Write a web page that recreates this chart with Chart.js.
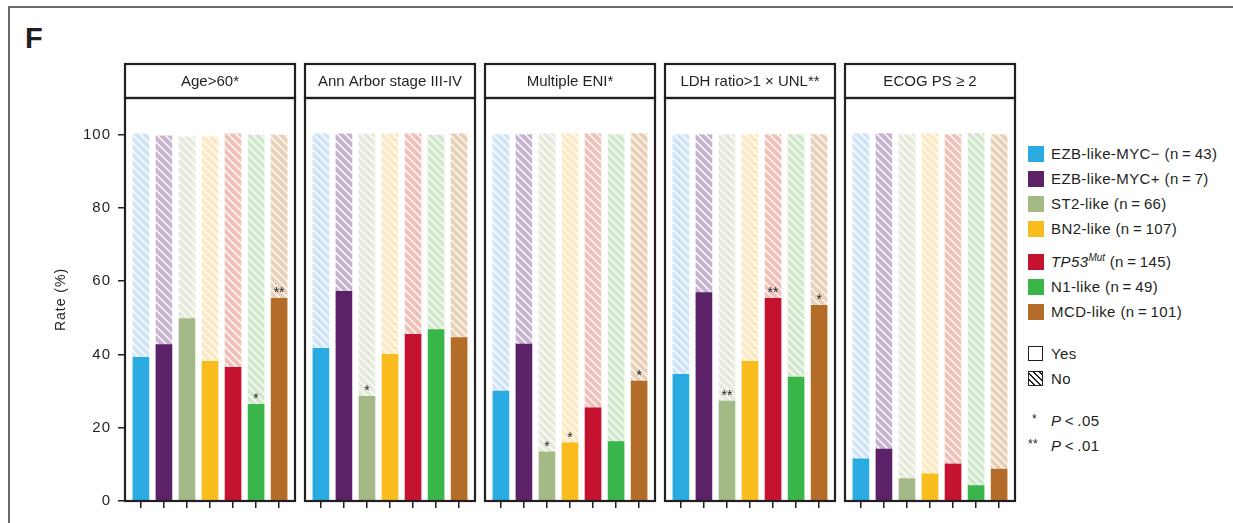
<!DOCTYPE html>
<html>
<head>
<meta charset="utf-8">
<script src="https://cdn.jsdelivr.net/npm/chart.js@4.4.1/dist/chart.umd.min.js"></script>
<style>
  body { margin: 0; background: #fff; width: 1233px; height: 523px; overflow: hidden; position: relative;
         font-family: "Liberation Sans", Arial, sans-serif; color: #231f20; }
  .frame { position: absolute; left: 8px; top: 6px; width: 1300px; height: 600px;
           border-top: 2px solid #6b6b6b; border-left: 2px solid #6b6b6b; }
  .letter { position: absolute; left: 25px; top: 21px; font-size: 29px; font-weight: bold; line-height: 34px; }
  canvas { position: absolute; top: 50px; }
  .row { position: absolute; left: 1028px; height: 16px; line-height: 16px; font-size: 15px; white-space: nowrap; letter-spacing: 0.4px; }
  .sw { position: absolute; left: 0; top: 0; width: 16px; height: 16px; }
  .row span.t { position: absolute; left: 23px; top: 0; }
  .box { position: absolute; left: 0; top: 0; width: 13px; height: 13px; border: 1.5px solid #231f20; }
  sup { font-size: 10px; line-height: 0; vertical-align: 6px; letter-spacing: 0; }
</style>
</head>
<body>
<div class="frame"></div>
<div class="letter">F</div>
<div id="panels"></div>
<div id="legend"></div>
<script>
// groups (bars inside every panel)
const groups = ['EZB-like-MYC\u2212', 'EZB-like-MYC+', 'ST2-like', 'BN2-like', 'TP53', 'N1-like', 'MCD-like'];
const groupN = [43, 7, 66, 107, 145, 49, 101];
const solidColors = ['#29abe2', '#5c2268', '#a4b985', '#f8bd1c', '#c41230', '#3ab54a', '#b46d28'];
const lightColors = ['#cfe4f6', '#c7b4d0', '#e5eadb', '#fde9c1', '#f1c0b8', '#d1e8cc', '#e9cfb5'];

const panelTitles = ['Age>60*', 'Ann Arbor stage III-IV', 'Multiple ENI*', 'LDH ratio>1 \u00d7 UNL**', 'ECOG PS \u2265 2'];

// rate (%) of "Yes" and "No" per panel
const yesAge = [39.2, 42.7, 49.8, 38.1, 36.5, 26.4, 55.3];
const noAge  = [61.0, 57.0, 49.6, 61.3, 63.7, 73.5, 44.6];
const yesStage = [41.7, 57.2, 28.6, 40.0, 45.5, 46.8, 44.6];
const noStage  = [58.5, 43.0, 71.6, 60.2, 54.7, 53.1, 55.6];
const yesEni = [30.0, 42.8, 13.4, 15.9, 25.4, 16.2, 32.7];
const noEni  = [70.0, 57.2, 86.9, 84.4, 74.9, 83.8, 67.6];
const yesLdh = [34.6, 56.9, 27.3, 38.1, 55.3, 33.8, 53.4];
const noLdh  = [65.4, 43.1, 72.7, 61.9, 44.7, 66.2, 46.6];
const yesEcog = [11.5, 14.2, 6.1, 7.4, 10.1, 4.2, 8.7];
const noEcog  = [88.8, 86.1, 93.9, 92.9, 89.9, 96.1, 91.3];

// significance marks over the "Yes" part
const starsAge   = ['', '', '', '', '', '*', '**'];
const starsStage = ['', '', '*', '', '', '', ''];
const starsEni   = ['', '', '*', '*', '', '', '*'];
const starsLdh   = ['', '', '**', '', '**', '', '*'];
const starsEcog  = ['', '', '', '', '', '', ''];

const yTicks = [0, 20, 40, 60, 80, 100];

const panelYes = [yesAge, yesStage, yesEni, yesLdh, yesEcog];
const panelNo = [noAge, noStage, noEni, noLdh, noEcog];
const panelStars = [starsAge, starsStage, starsEni, starsLdh, starsEcog];

const FONT = '"Liberation Sans", Arial, sans-serif';
const INK = '#231f20';

function hatch(color, line) {
  const c = document.createElement('canvas');
  c.width = c.height = 8;
  const g = c.getContext('2d');
  g.fillStyle = color;
  g.fillRect(0, 0, 8, 8);
  g.strokeStyle = line;
  g.lineWidth = 1.4;
  g.beginPath();
  g.moveTo(-1, -1); g.lineTo(9, 9);
  g.moveTo(-1, 7); g.lineTo(1, 9);
  g.moveTo(7, -1); g.lineTo(9, 1);
  g.stroke();
  return g.createPattern(c, 'repeat');
}
const hatchColors = lightColors.map(c => hatch(c, '#ffffff'));

// box round the plot and the title strip
const panelBox = {
  id: 'panelBox',
  beforeDraw(chart) {
    chart.ctx.letterSpacing = '1px';   // wider tick numbers, like the original
  },
  afterDraw(chart, args, opts) {
    const { ctx, chartArea: a } = chart;
    ctx.save();
    ctx.letterSpacing = '0px';
    ctx.strokeStyle = INK;
    ctx.lineWidth = 2.2;
    ctx.strokeRect(a.left, a.top, a.right - a.left, a.bottom - a.top);
    ctx.strokeRect(a.left, a.top - 34, a.right - a.left, 34);
    ctx.font = '15px ' + FONT;
    ctx.fillStyle = INK;
    ctx.textAlign = 'center';
    ctx.textBaseline = 'middle';
    ctx.fillText(opts.title, (a.left + a.right) / 2, a.top - 16);
    ctx.restore();
  }
};

const starMarks = {
  id: 'starMarks',
  afterDatasetsDraw(chart, args, opts) {
    const { ctx } = chart;
    const meta = chart.getDatasetMeta(0);
    ctx.save();
    ctx.letterSpacing = '0px';
    ctx.font = '14px ' + FONT;
    ctx.fillStyle = '#222';
    ctx.textAlign = 'center';
    ctx.textBaseline = 'alphabetic';
    meta.data.forEach((bar, i) => {
      if (opts.stars[i]) ctx.fillText(opts.stars[i], bar.x, bar.y - 1);
    });
    ctx.restore();
  }
};

const holder = document.getElementById('panels');

panelTitles.forEach((title, p) => {
  const first = p === 0;
  const panelLeft = 125 + p * 180;
  const axisW = first ? 85 : 0;
  const padL = first ? 0 : 4;
  const canvas = document.createElement('canvas');
  canvas.width = padL + axisW + 170 + 4;
  canvas.height = 470;
  canvas.style.left = (panelLeft - axisW - padL) + 'px';
  holder.appendChild(canvas);

  new Chart(canvas.getContext('2d'), {
    type: 'bar',
    data: {
      datasets: [
        {
          label: 'Yes',
          data: panelYes[p].map((v, i) => ({ x: i, y: v })),
          backgroundColor: solidColors,
          barThickness: 16
        },
        {
          label: 'No',
          data: panelNo[p].map((v, i) => ({ x: i, y: v })),
          backgroundColor: hatchColors,
          barThickness: 16
        }
      ]
    },
    options: {
      responsive: false,
      animation: false,
      layout: { padding: { left: padL, right: 4, top: 48, bottom: 0 } },
      plugins: {
        legend: { display: false },
        tooltip: { enabled: false },
        panelBox: { title: title },
        starMarks: { stars: panelStars[p] }
      },
      scales: {
        x: {
          type: 'linear',
          stacked: true,
          offset: false,
          min: -0.69,
          max: 6.69,
          afterBuildTicks: s => { s.ticks = groups.map((g, i) => ({ value: i })); },
          afterFit: s => { s.height = 19; },
          ticks: { display: false },
          grid: { offset: false, drawOnChartArea: false, drawTicks: true, tickLength: 7, color: INK, lineWidth: 1.5 },
          border: { display: false }
        },
        y: {
          display: first,
          stacked: true,
          min: 0,
          max: 110,
          afterBuildTicks: s => { s.ticks = yTicks.map(v => ({ value: v })); },
          afterFit: s => { if (first) s.width = axisW; },
          ticks: { color: INK, font: { size: 15, family: FONT }, padding: 7 },
          grid: { drawOnChartArea: false, drawTicks: true, tickLength: 7, color: INK, lineWidth: 1.5 },
          border: { display: false },
          title: { display: first, text: 'Rate (%)', color: INK, font: { size: 14, family: FONT },
                   padding: { top: 13, bottom: 0 } }
        }
      }
    },
    plugins: [panelBox, starMarks]
  });
});

// legend
const legend = document.getElementById('legend');
groups.forEach((g, i) => {
  const row = document.createElement('div');
  row.className = 'row';
  row.style.top = (146 + i * 25 + (i >= 4 ? 8 : 0)) + 'px';
  const name = g === 'TP53' ? '<i>TP53</i><sup><i>Mut</i></sup>' : g;
  row.innerHTML = '<div class="sw" style="background:' + solidColors[i] + '"></div>' +
    '<span class="t">' + name + ' (n\u2009=\u2009' + groupN[i] + ')</span>';
  legend.appendChild(row);
});

const extra = [
  { top: 346, html: '<div class="box"></div><span class="t">Yes</span>' },
  { top: 371, html: '<div class="box" style="background:repeating-linear-gradient(45deg,#fff 0 3px,#231f20 3px 4.3px)"></div><span class="t">No</span>' },
  { top: 413, html: '<span style="position:absolute;left:4px;top:-2px;font-size:12px">*</span><span class="t"><i>P</i>\u2009&lt;\u2009.05</span>' },
  { top: 438, html: '<span style="position:absolute;left:0px;top:-2px;font-size:12px">**</span><span class="t"><i>P</i>\u2009&lt;\u2009.01</span>' }
];
extra.forEach(e => {
  const row = document.createElement('div');
  row.className = 'row';
  row.style.top = e.top + 'px';
  row.innerHTML = e.html;
  legend.appendChild(row);
});
</script>
</body>
</html>
